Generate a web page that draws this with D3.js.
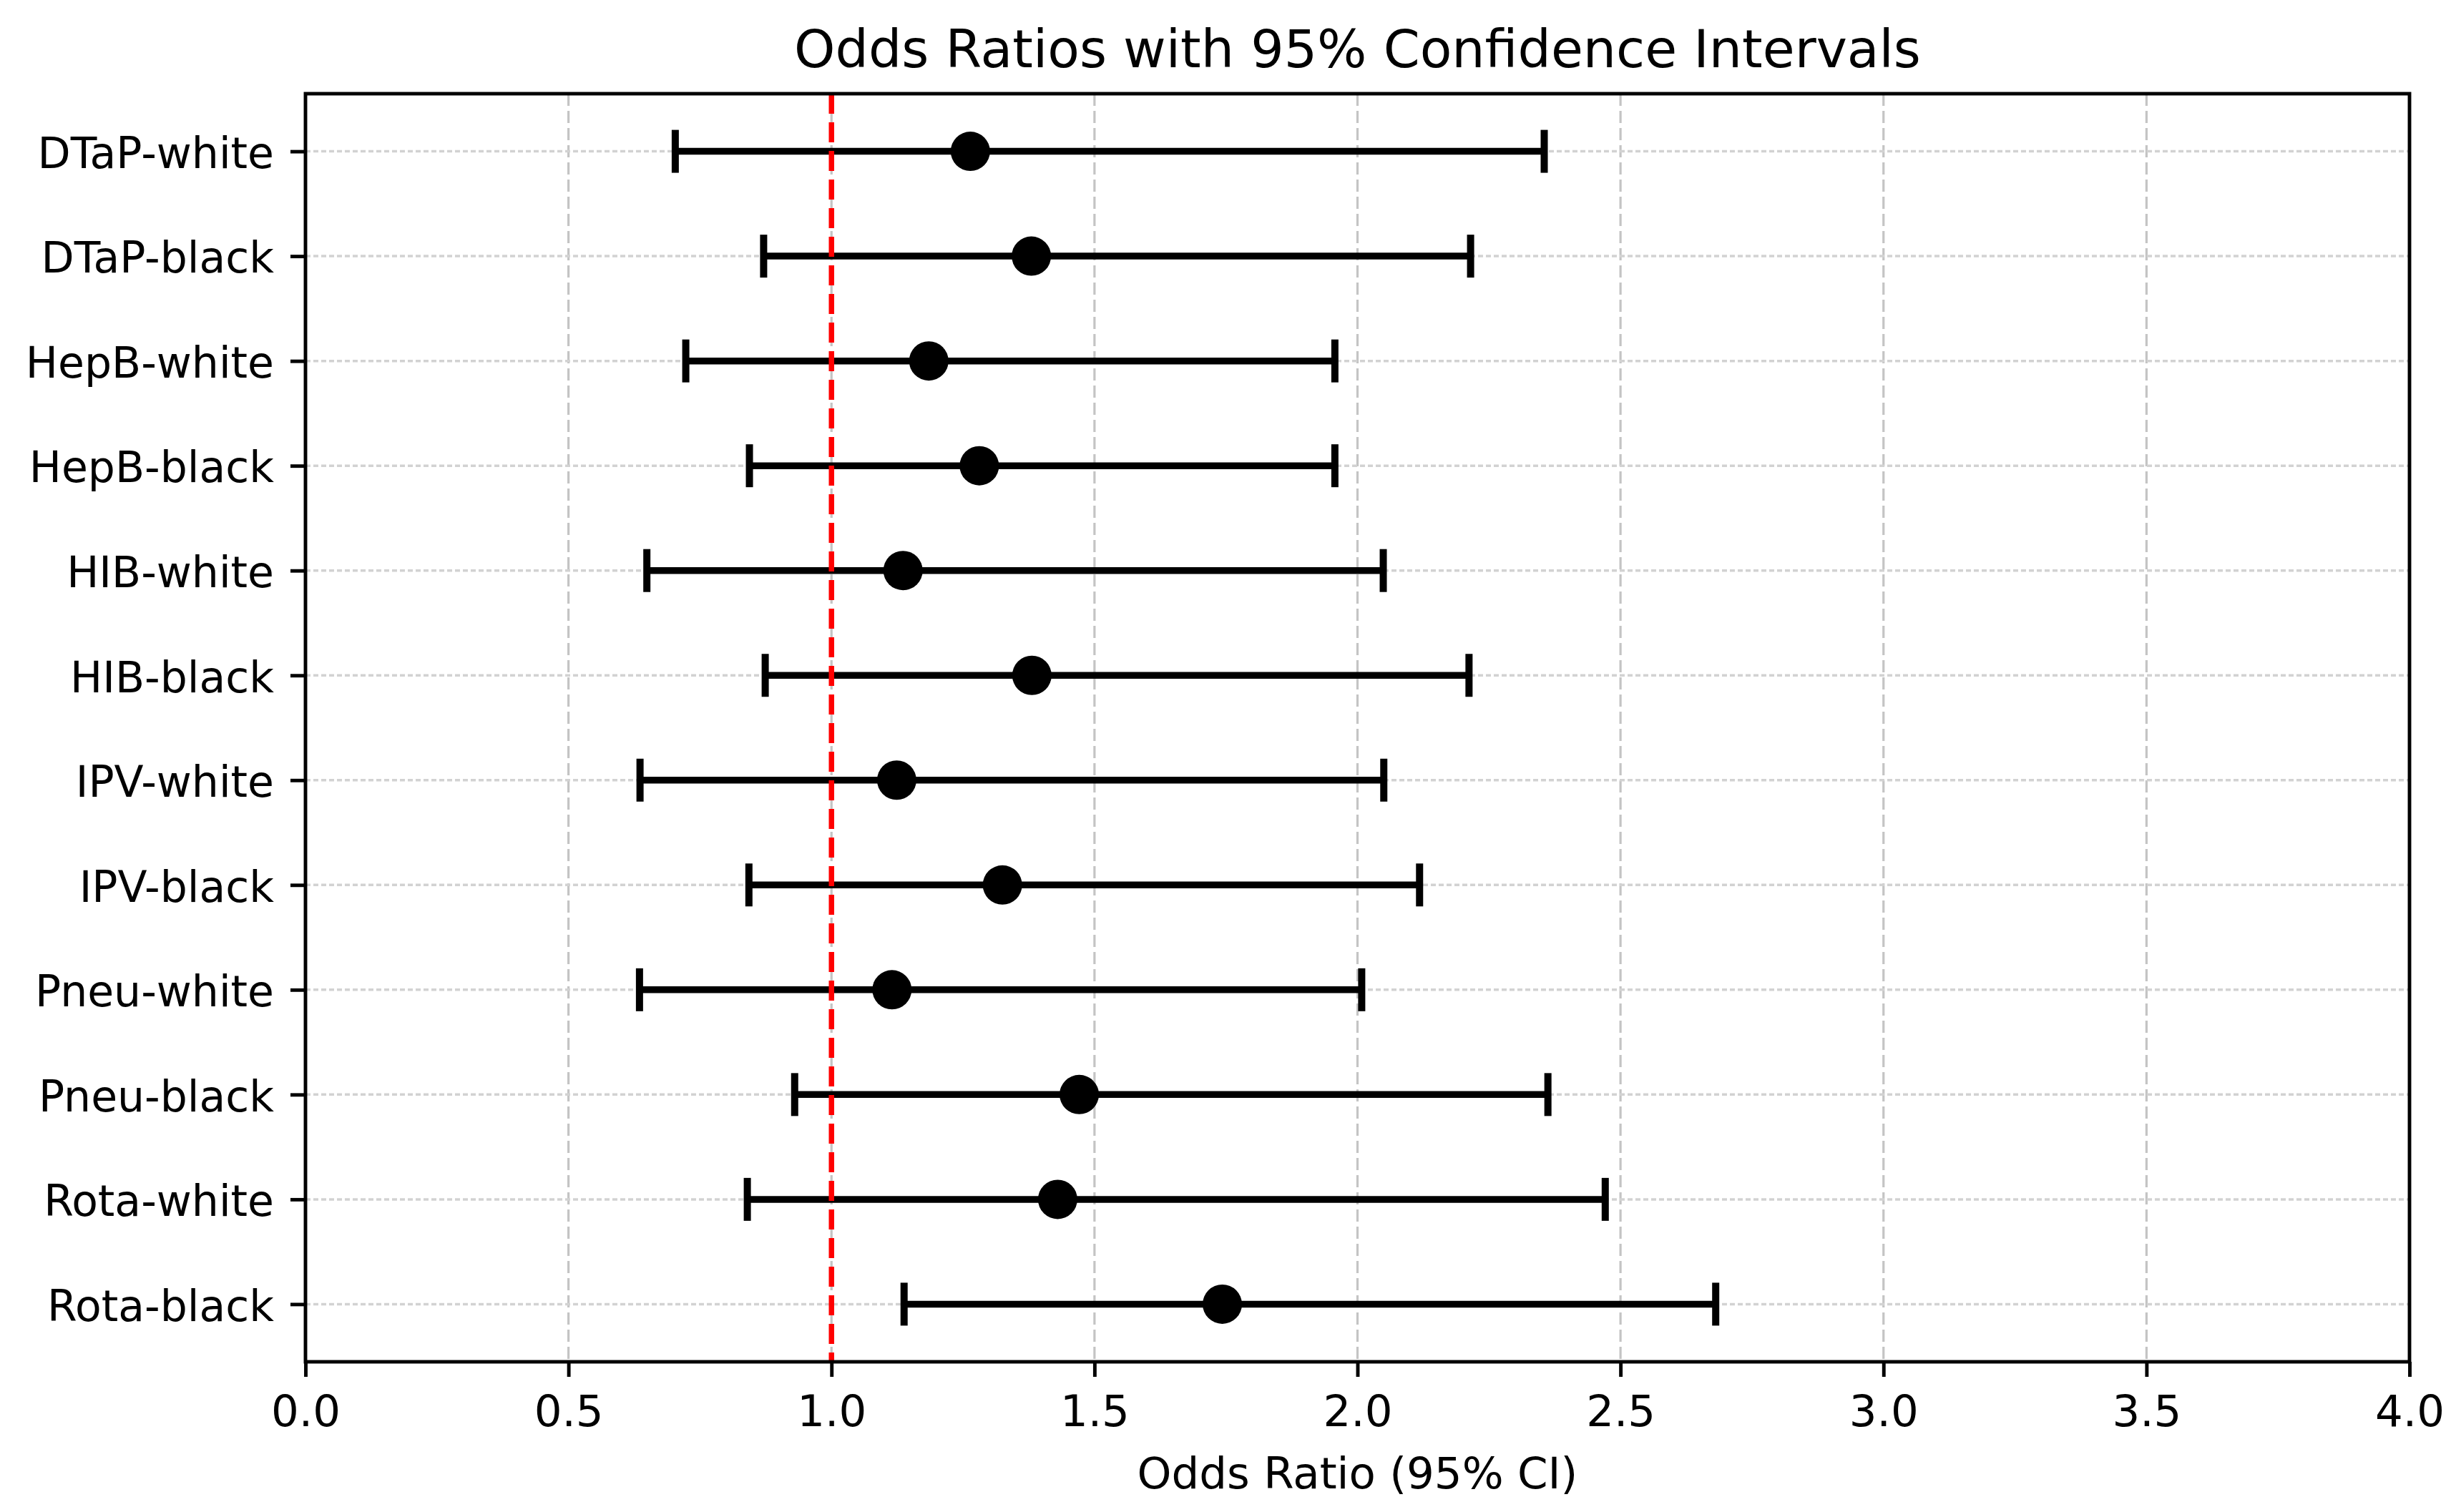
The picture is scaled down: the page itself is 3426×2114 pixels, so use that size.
<!DOCTYPE html>
<html>
<head>
<meta charset="utf-8">
<script src="https://cdn.jsdelivr.net/npm/d3@7"></script>
<style>
  html, body { margin: 0; padding: 0; background: #ffffff; }
  svg { display: block; font-family: "DejaVu Sans", sans-serif; }
</style>
</head>
<body>
<svg id="chart" width="3426" height="2114"></svg>
<script>
// ---- data ----
const categories = ["DTaP-white","DTaP-black","HepB-white","HepB-black","HIB-white","HIB-black",
                    "IPV-white","IPV-black","Pneu-white","Pneu-black","Rota-white","Rota-black"];
const oddsRatio = [1.264, 1.380, 1.185, 1.281, 1.136, 1.381, 1.124, 1.325, 1.115, 1.471, 1.430, 1.743];
const ciLower   = [0.703, 0.871, 0.723, 0.844, 0.649, 0.874, 0.636, 0.843, 0.635, 0.930, 0.840, 1.138];
const ciUpper   = [2.355, 2.215, 1.957, 1.957, 2.049, 2.212, 2.050, 2.118, 2.008, 2.362, 2.471, 2.681];
const xTicks    = [0, 0.5, 1.0, 1.5, 2.0, 2.5, 3.0, 3.5, 4.0];
const refValue  = 1.0;
const titleText = "Odds Ratios with 95% Confidence Intervals";
const xLabelText = "Odds Ratio (95% CI)";

const rows = categories.map((c, i) => ({ cat: c, or: oddsRatio[i], lo: ciLower[i], hi: ciUpper[i] }));

// ---- layout ----
const svg = d3.select("#chart");
const L = 427, R = 3368, T = 131, B = 1904;

const x = d3.scaleLinear().domain([0, 4]).range([L, R]);
const y = d3.scalePoint().domain(categories).range([T, B]).padding(0.55);

// background
svg.append("rect").attr("width", 3426).attr("height", 2114).attr("fill", "#ffffff");

// vertical grid
svg.append("g").selectAll("line").data(xTicks).join("line")
  .attr("x1", d => x(d)).attr("x2", d => x(d))
  .attr("y1", T).attr("y2", B)
  .attr("stroke", "#c4c4c4").attr("stroke-width", 3.2)
  .attr("stroke-dasharray", "17,7");

// horizontal grid
svg.append("g").selectAll("line").data(categories).join("line")
  .attr("x1", L).attr("x2", R)
  .attr("y1", d => y(d)).attr("y2", d => y(d))
  .attr("stroke", "#d2d2d2").attr("stroke-width", 3.5)
  .attr("stroke-dasharray", "7,4");

// error bars
const eb = svg.append("g");
eb.selectAll("line.bar").data(rows).join("line").attr("class", "bar")
  .attr("x1", d => x(d.lo)).attr("x2", d => x(d.hi))
  .attr("y1", d => y(d.cat)).attr("y2", d => y(d.cat))
  .attr("stroke", "#000").attr("stroke-width", 9.5);
const capHalf = 30;
eb.selectAll("line.caplo").data(rows).join("line").attr("class", "caplo")
  .attr("x1", d => x(d.lo)).attr("x2", d => x(d.lo))
  .attr("y1", d => y(d.cat) - capHalf).attr("y2", d => y(d.cat) + capHalf)
  .attr("stroke", "#000").attr("stroke-width", 10);
eb.selectAll("line.caphi").data(rows).join("line").attr("class", "caphi")
  .attr("x1", d => x(d.hi)).attr("x2", d => x(d.hi))
  .attr("y1", d => y(d.cat) - capHalf).attr("y2", d => y(d.cat) + capHalf)
  .attr("stroke", "#000").attr("stroke-width", 10);

// reference line
svg.append("line")
  .attr("x1", x(refValue)).attr("x2", x(refValue))
  .attr("y1", T).attr("y2", B)
  .attr("stroke", "#ff0000").attr("stroke-width", 7.5)
  .attr("stroke-dasharray", "28,12");

// points
svg.append("g").selectAll("circle").data(rows).join("circle")
  .attr("cx", d => x(d.or)).attr("cy", d => y(d.cat))
  .attr("r", 27.5).attr("fill", "#000");

// axes
const xAxis = d3.axisBottom(x).tickValues(xTicks).tickFormat(d3.format(".1f"))
  .tickSize(21).tickPadding(26);
const gx = svg.append("g").attr("transform", `translate(0,${B})`).call(xAxis);
gx.select(".domain").remove();
gx.selectAll(".tick line").attr("stroke", "#000").attr("stroke-width", 4.9);
gx.selectAll(".tick text").attr("font-size", 61).attr("fill", "#000")
  .attr("font-family", "DejaVu Sans");

const yAxis = d3.axisLeft(y).tickSize(21).tickPadding(23);
const gy = svg.append("g").attr("transform", `translate(${L},0)`).call(yAxis);
gy.select(".domain").remove();
gy.selectAll(".tick line").attr("stroke", "#000").attr("stroke-width", 4.9);
gy.selectAll(".tick text").attr("font-size", 60).attr("fill", "#000")
  .attr("dy", "0.38em").attr("font-family", "DejaVu Sans");

// frame
svg.append("rect").attr("x", L).attr("y", T).attr("width", R - L).attr("height", B - T)
  .attr("fill", "none").attr("stroke", "#000").attr("stroke-width", 4.9);

// title & label
svg.append("text").attr("x", (L + R) / 2).attr("y", 94)
  .attr("text-anchor", "middle").attr("font-size", 73).attr("fill", "#000")
  .text(titleText);
svg.append("text").attr("x", (L + R) / 2).attr("y", 2081)
  .attr("text-anchor", "middle").attr("font-size", 61).attr("fill", "#000")
  .text(xLabelText);
</script>
</body>
</html>
